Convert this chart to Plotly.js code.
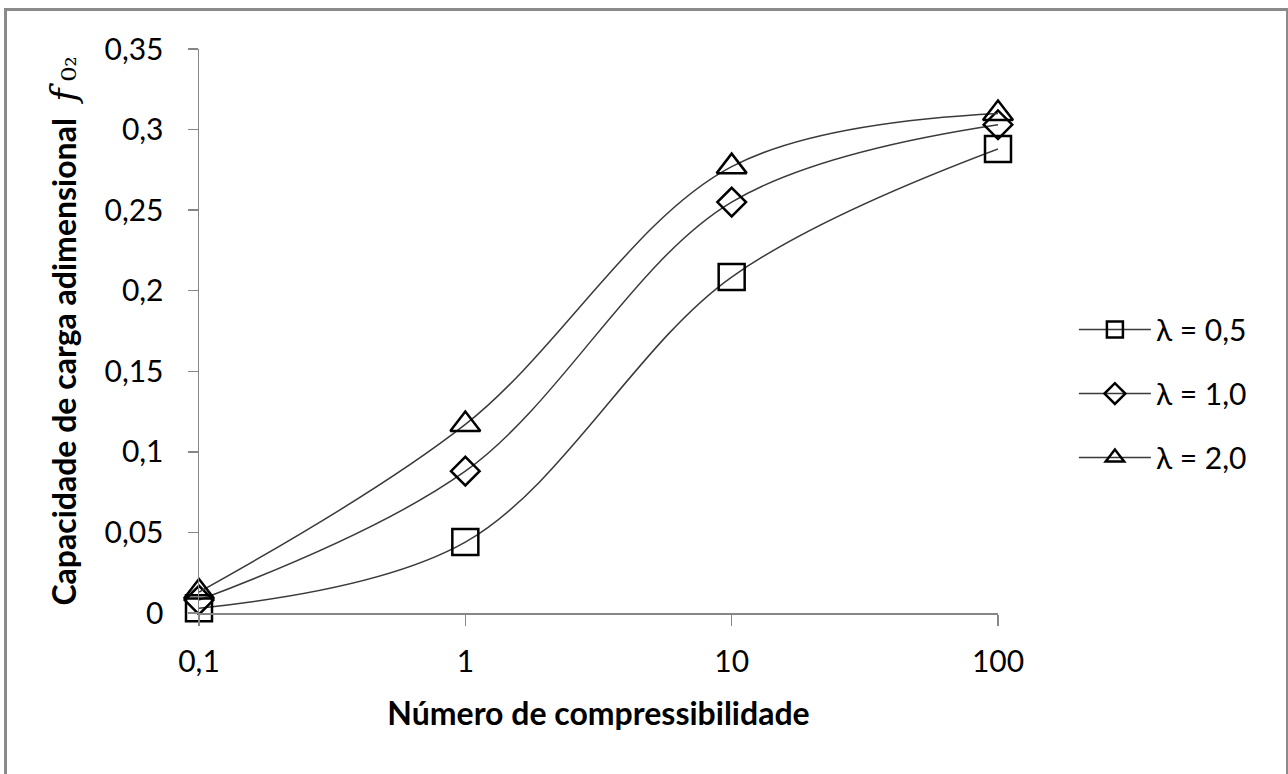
<!DOCTYPE html>
<html>
<head>
<meta charset="utf-8">
<script src="https://cdn.plot.ly/plotly-3.0.1.min.js"></script>
<style>
  html, body { margin: 0; padding: 0; background: #fff; overflow: hidden; }
  #chart { width: 1288px; height: 774px; }
  #frame { position: absolute; left: 4px; top: 8px; width: 1284px; height: 800px;
           box-sizing: border-box; border: 3px solid #8a8a8a; border-right-width: 2px;
           pointer-events: none; }
</style>
</head>
<body>
<div id="chart"></div>
<div id="frame"></div>
<script>
// Data
const compressibility = [0.1, 1, 10, 100];
const lambda05 = [0.003, 0.044, 0.2085, 0.288];
const lambda10 = [0.008, 0.088, 0.255, 0.303];
const lambda20 = [0.013, 0.117, 0.277, 0.310];
const seriesNames = ['λ = 0,5', 'λ = 1,0', 'λ = 2,0'];
const xTickVals = [0.1, 1, 10, 100];
const xTickText = ['0,1', '1', '10', '100'];
const yTickVals = [0, 0.05, 0.1, 0.15, 0.2, 0.25, 0.3, 0.35];
const yTickText = ['0', '0,05', '0,1', '0,15', '0,2', '0,25', '0,3', '0,35'];

const FONT = 'Lato, "Open Sans", sans-serif';
const symbols = ['square-open', 'diamond-open', 'triangle-up-open'];
const sizes = [26, 22, 26];
const allY = [lambda05, lambda10, lambda20];

const traces = allY.map((ys, i) => ({
  x: compressibility,
  y: ys,
  name: seriesNames[i],
  legendgroup: 'g' + i,
  type: 'scatter',
  mode: 'lines+markers',
  cliponaxis: false,
  line: { shape: 'spline', smoothing: 1, color: '#3a3a3a', width: 1.5 },
  marker: { symbol: symbols[i], size: sizes[i], color: '#000', line: { color: '#000', width: 2.5 } }
}));

const SERIF = "font-family:'DejaVu Serif','Liberation Serif',serif;font-weight:normal";

const layout = {
  width: 1288, height: 774,
  paper_bgcolor: '#fff', plot_bgcolor: '#fff',
  margin: { l: 199, r: 290, t: 49, b: 161 },
  font: { family: FONT, size: 30, color: '#000' },
  showlegend: true,
  legend: {
    x: 1.095, y: 0.389, xanchor: 'left', yanchor: 'middle',
    font: { family: FONT, size: 30, color: '#000' },
    itemwidth: 72, tracegroupgap: 22, bgcolor: 'rgba(0,0,0,0)'
  },
  xaxis: {
    type: 'log', range: [-1, 2],
    tickvals: xTickVals, ticktext: xTickText,
    ticks: 'outside', ticklen: 11, tickcolor: '#868686', tickwidth: 1.5,
    showline: true, linecolor: '#868686', linewidth: 1.5,
    showgrid: false, zeroline: false,
    tickfont: { family: FONT, size: 30, color: '#000' },
    ticklabelstandoff: 10,
    title: { text: '<b>Número de compressibilidade</b>', font: { family: FONT, size: 32, color: '#000' }, standoff: 26 }
  },
  yaxis: {
    range: [0, 0.35],
    tickvals: yTickVals, ticktext: yTickText,
    ticks: 'outside', ticklen: 10, tickcolor: '#868686', tickwidth: 1.5,
    showline: true, linecolor: '#868686', linewidth: 1.5,
    showgrid: false, zeroline: false,
    tickfont: { family: FONT, size: 30, color: '#000' },
    ticklabelstandoff: 18,
    title: {
      text: '<b>Capacidade de carga adimensional</b>\u00a0\u00a0<span style="' + SERIF + ';font-size:36px"><i>f</i>\u2009₀</span>' +
            '<span style="' + SERIF + ';font-size:26px">₂</span>',
      font: { family: FONT, size: 32, color: '#000' }, standoff: 18
    }
  }
};

Plotly.newPlot('chart', traces, layout, { displayModeBar: false, staticPlot: true });
</script>
</body>
</html>
